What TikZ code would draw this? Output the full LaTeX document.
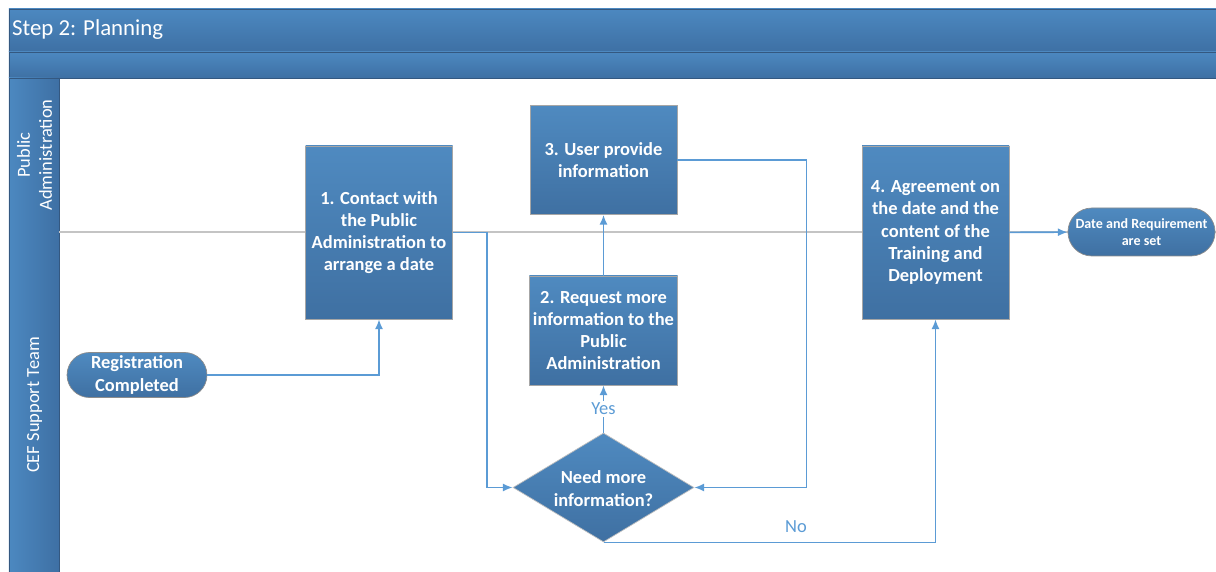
\documentclass[tikz,border=0pt]{standalone}
\usepackage{fontspec}
\setmainfont{Carlito}
\usepackage{tikz}
\usetikzlibrary{shapes, arrows.meta, positioning, calc}
\definecolor{laneblue}{RGB}{76,136,192}
\definecolor{lanedark}{RGB}{62,112,164}
\definecolor{laneedge}{RGB}{52,88,128}
\definecolor{boxtop}{RGB}{79,138,192}
\definecolor{boxbottom}{RGB}{63,112,162}
\definecolor{flowline}{RGB}{91,155,213}
\definecolor{divider}{RGB}{196,196,196}

\begin{document}
\begin{tikzpicture}[
    every node/.style={align=center, font=\fontsize{10.5}{12.6}\selectfont},
    procbox/.style={draw=black!35, top color=boxtop, bottom color=boxbottom, text=white,
                    font=\fontsize{10.5}{12.6}\selectfont\bfseries, minimum width=2.94cm, inner sep=2pt},
    pill/.style={rounded rectangle, draw=black!45, top color=boxtop, bottom color=boxbottom, text=white,
                 font=\fontsize{10.5}{12.6}\selectfont\bfseries, inner sep=2pt},
    decision/.style={diamond, aspect=1.66, draw=black!25, top color=boxtop, bottom color=boxbottom, text=white,
                     font=\fontsize{10.5}{12.6}\selectfont\bfseries, minimum width=3.62cm, minimum height=2.18cm, inner sep=0pt},
    flow/.style={draw=flowline, line width=0.9pt, -{Latex[length=5.5pt, width=4.5pt]}},
    flowlabel/.style={text=flowline, font=\fontsize{10.5}{12.6}\selectfont}
]
    \useasboundingbox (0,0) rectangle (24.32,-11.44);

    % Pool header
    \draw[top color=laneblue, bottom color=lanedark, draw=laneedge] (0.18,-0.18) rectangle (24.5,-1.04);
    \node[anchor=west, text=white, font=\fontsize{13}{15.6}\selectfont] (title) at (0.12,-0.6) {Step 2: Planning};
    \draw[top color=laneblue, bottom color=lanedark, draw=laneedge] (0.18,-1.04) rectangle (24.5,-1.56);

    % Lanes
    \draw[left color=laneblue, right color=lanedark, draw=laneedge] (0.18,-1.56) rectangle (1.18,-11.6);
    \draw[divider, line width=0.8pt] (1.18,-4.64) -- (24.5,-4.64);
    \node[rotate=90, text=white] (laneA) at (0.69,-3.1) {Public\\Administration};
    \node[rotate=90, text=white] (laneB) at (0.69,-8.1) {CEF Support Team};

    % Start
    \node[pill, minimum width=2.94cm, minimum height=0.88cm] (reg) at (2.74,-7.5) {Registration\\Completed};

    % Steps
    \node[procbox, minimum height=3.46cm] (contact) at (7.58,-4.65) {1. Contact with\\the Public\\Administration to\\arrange a date};
    \node[procbox, minimum height=2.18cm] (provide) at (12.07,-3.2) {3. User provide\\information};
    \node[procbox, minimum height=2.18cm] (request) at (12.07,-6.61) {2. Request more\\information to the\\Public\\Administration};
    \node[decision] (need) at (12.07,-9.75) {\\[-4pt]Need more\\information?};
    \node[procbox, minimum height=3.46cm] (agree) at (18.71,-4.65) {4. Agreement on\\the date and the\\content of the\\Training and\\Deployment};

    % End
    \node[pill, font=\fontsize{8}{9.6}\selectfont\bfseries, minimum width=2.9cm, minimum height=0.96cm] (done) at (22.83,-4.64) {Date and Requirement\\are set};

    % Flow
    \draw[flow] (reg.east) -| (contact.south);
    \draw[flow] (contact.east) -- ++(0.68,0) |- (need.west);
    \draw[flow] (need.north) -- node[fill=white, flowlabel, inner sep=1pt] (yes) {Yes} (request.south);
    \draw[flow] (request) -- (provide);
    \draw[flow] (provide.east) -- ++(2.58,0) |- (need.east);
    \draw[flow] (need.south) -| node[pos=0.29, above=2pt, flowlabel] (no) {No} (agree.south);
    \draw[flow] (agree) -- (done);
\end{tikzpicture}
\end{document}
